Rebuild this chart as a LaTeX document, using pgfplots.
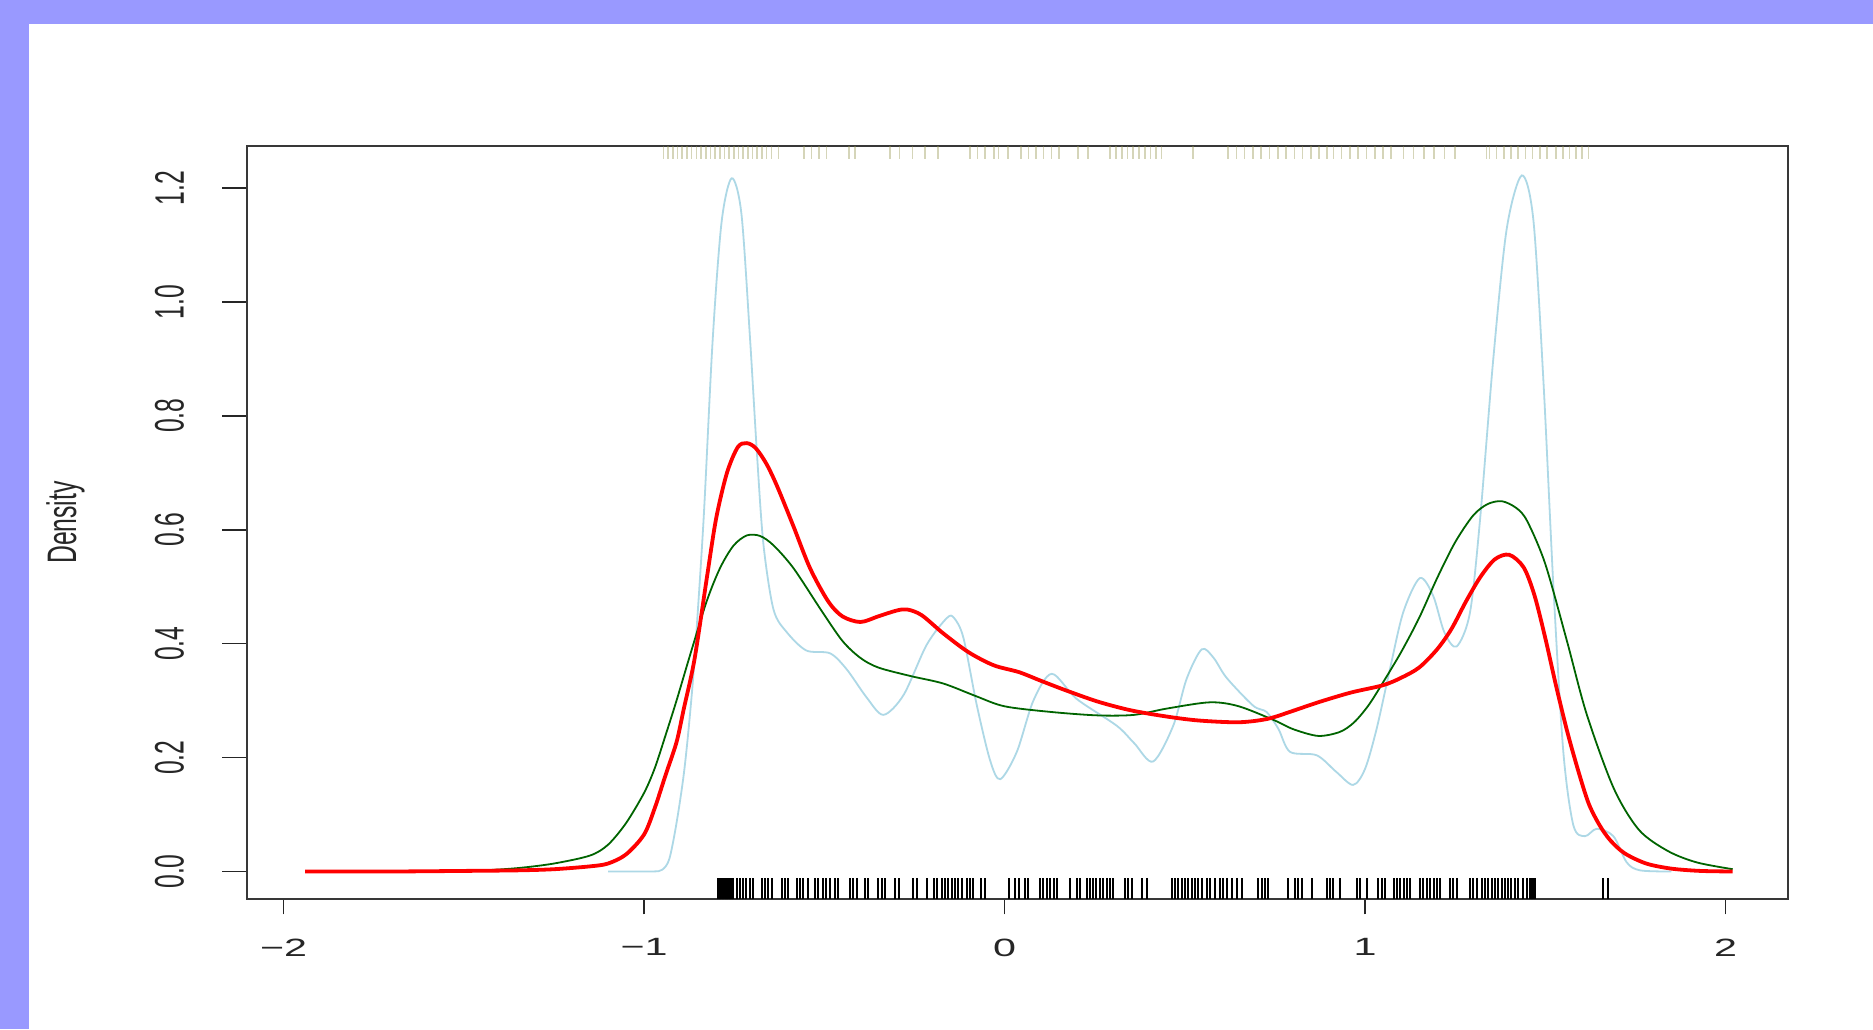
\documentclass[border=0pt]{standalone}
\usepackage{fontspec}
\setmainfont{Liberation Sans}
\newfontfamily\xlabfont{Liberation Sans}[FakeStretch=1.65]
\newfontfamily\ylabfont{Liberation Sans}[FakeStretch=0.6]
\usepackage{pgfplots}
\usepackage{pgfplotstable}
\pgfplotsset{compat=1.18}

\definecolor{frameblue}{RGB}{153,153,255}
\definecolor{kdeblue}{RGB}{173,216,230}
\definecolor{kdegreen}{RGB}{0,100,0}
\definecolor{rugolive}{RGB}{150,150,80}

\pgfplotstableread{
x y
-1.94 0
-1.70 0.000
-1.50 0.001
-1.35 0.002
-1.25 0.004
-1.15 0.009
-1.10 0.014
-1.05 0.030
-1.00 0.065
-0.97 0.112
-0.94 0.170
-0.91 0.227
-0.89 0.285
-0.86 0.373
-0.826 0.515
-0.80 0.620
-0.77 0.700
-0.74 0.745
-0.715 0.752
-0.69 0.743
-0.66 0.715
-0.63 0.675
-0.585 0.605
-0.54 0.533
-0.49 0.475
-0.45 0.448
-0.40 0.438
-0.35 0.448
-0.30 0.458
-0.27 0.460
-0.23 0.450
-0.17 0.418
-0.10 0.385
-0.03 0.362
0.04 0.350
0.10 0.335
0.17 0.318
0.26 0.298
0.35 0.283
0.45 0.272
0.54 0.265
0.65 0.262
0.73 0.268
0.80 0.282
0.87 0.297
0.96 0.314
1.05 0.327
1.10 0.340
1.15 0.358
1.20 0.390
1.24 0.426
1.28 0.474
1.32 0.517
1.36 0.548
1.40 0.556
1.44 0.534
1.47 0.485
1.50 0.410
1.53 0.326
1.56 0.248
1.59 0.180
1.62 0.120
1.65 0.082
1.68 0.055
1.72 0.032
1.78 0.014
1.85 0.005
1.93 0.001
2.02 0
}\redkde

\pgfplotstableread{
x y
-1.60 0.000
-1.45 0.002
-1.35 0.006
-1.25 0.014
-1.15 0.028
-1.10 0.047
-1.05 0.085
-1.00 0.138
-0.97 0.182
-0.94 0.240
-0.91 0.300
-0.87 0.385
-0.826 0.475
-0.789 0.533
-0.752 0.572
-0.715 0.590
-0.678 0.589
-0.64 0.572
-0.585 0.532
-0.51 0.460
-0.45 0.405
-0.40 0.375
-0.35 0.358
-0.26 0.343
-0.17 0.330
-0.08 0.308
0.00 0.290
0.13 0.280
0.26 0.274
0.36 0.275
0.45 0.286
0.57 0.297
0.65 0.290
0.75 0.265
0.80 0.250
0.87 0.238
0.93 0.245
0.97 0.262
1.01 0.292
1.05 0.332
1.10 0.385
1.15 0.445
1.20 0.515
1.25 0.578
1.30 0.625
1.34 0.645
1.38 0.650
1.42 0.638
1.45 0.615
1.50 0.540
1.56 0.405
1.615 0.276
1.69 0.146
1.76 0.073
1.84 0.036
1.92 0.016
2.02 0.004
}\greenkde

\pgfplotstableread{
x y
-1.10 0.000
-0.98 0.000
-0.95 0.003
-0.93 0.022
-0.91 0.085
-0.89 0.170
-0.875 0.26
-0.86 0.373
-0.835 0.617
-0.81 0.930
-0.785 1.140
-0.757 1.217
-0.73 1.155
-0.706 0.935
-0.687 0.735
-0.669 0.575
-0.641 0.460
-0.604 0.420
-0.55 0.388
-0.484 0.383
-0.438 0.355
-0.382 0.305
-0.336 0.275
-0.28 0.310
-0.216 0.398
-0.16 0.445
-0.14 0.445
-0.114 0.410
-0.077 0.292
-0.04 0.195
-0.012 0.162
0.034 0.210
0.080 0.300
0.131 0.347
0.200 0.303
0.311 0.256
0.360 0.225
0.412 0.193
0.468 0.256
0.505 0.338
0.547 0.390
0.58 0.375
0.616 0.340
0.690 0.291
0.727 0.280
0.76 0.25
0.792 0.210
0.866 0.204
0.92 0.175
0.967 0.152
1.00 0.180
1.032 0.250
1.069 0.355
1.106 0.455
1.152 0.515
1.189 0.484
1.220 0.420
1.254 0.395
1.291 0.454
1.319 0.617
1.356 0.901
1.393 1.128
1.435 1.222
1.467 1.144
1.495 0.860
1.523 0.495
1.550 0.211
1.578 0.081
1.610 0.062
1.643 0.075
1.689 0.062
1.726 0.016
1.763 0.002
1.85 0
}\bluekde

% bottom rug: data positions (y = axis bottom)
\pgfplotstableread{
x y
-0.795 -0.049
-0.790 -0.049
-0.786 -0.049
-0.782 -0.049
-0.778 -0.049
-0.774 -0.049
-0.770 -0.049
-0.766 -0.049
-0.762 -0.049
-0.758 -0.049
-0.754 -0.049
-0.743 -0.049
-0.734 -0.049
-0.725 -0.049
-0.716 -0.049
-0.706 -0.049
-0.697 -0.049
-0.674 -0.049
-0.665 -0.049
-0.655 -0.049
-0.646 -0.049
-0.618 -0.049
-0.609 -0.049
-0.600 -0.049
-0.577 -0.049
-0.568 -0.049
-0.559 -0.049
-0.544 -0.049
-0.526 -0.049
-0.517 -0.049
-0.503 -0.049
-0.494 -0.049
-0.485 -0.049
-0.471 -0.049
-0.461 -0.049
-0.429 -0.049
-0.420 -0.049
-0.410 -0.049
-0.387 -0.049
-0.378 -0.049
-0.350 -0.049
-0.341 -0.049
-0.332 -0.049
-0.304 -0.049
-0.294 -0.049
-0.253 -0.049
-0.243 -0.049
-0.216 -0.049
-0.197 -0.049
-0.188 -0.049
-0.174 -0.049
-0.165 -0.049
-0.156 -0.049
-0.147 -0.049
-0.138 -0.049
-0.128 -0.049
-0.119 -0.049
-0.105 -0.049
-0.096 -0.049
-0.087 -0.049
-0.064 -0.049
-0.054 -0.049
0.011 -0.049
0.030 -0.049
0.039 -0.049
0.057 -0.049
0.066 -0.049
0.098 -0.049
0.108 -0.049
0.117 -0.049
0.126 -0.049
0.136 -0.049
0.145 -0.049
0.182 -0.049
0.200 -0.049
0.209 -0.049
0.228 -0.049
0.237 -0.049
0.246 -0.049
0.255 -0.049
0.264 -0.049
0.274 -0.049
0.283 -0.049
0.292 -0.049
0.302 -0.049
0.334 -0.049
0.343 -0.049
0.353 -0.049
0.380 -0.049
0.394 -0.049
0.464 -0.049
0.473 -0.049
0.482 -0.049
0.491 -0.049
0.501 -0.049
0.510 -0.049
0.519 -0.049
0.528 -0.049
0.538 -0.049
0.547 -0.049
0.561 -0.049
0.570 -0.049
0.584 -0.049
0.598 -0.049
0.607 -0.049
0.616 -0.049
0.630 -0.049
0.644 -0.049
0.658 -0.049
0.704 -0.049
0.713 -0.049
0.722 -0.049
0.732 -0.049
0.787 -0.049
0.806 -0.049
0.815 -0.049
0.824 -0.049
0.852 -0.049
0.894 -0.049
0.903 -0.049
0.912 -0.049
0.931 -0.049
0.977 -0.049
0.986 -0.049
1.005 -0.049
1.037 -0.049
1.046 -0.049
1.056 -0.049
1.079 -0.049
1.088 -0.049
1.097 -0.049
1.107 -0.049
1.116 -0.049
1.125 -0.049
1.153 -0.049
1.162 -0.049
1.171 -0.049
1.180 -0.049
1.190 -0.049
1.199 -0.049
1.208 -0.049
1.236 -0.049
1.245 -0.049
1.254 -0.049
1.291 -0.049
1.300 -0.049
1.310 -0.049
1.324 -0.049
1.333 -0.049
1.342 -0.049
1.352 -0.049
1.361 -0.049
1.370 -0.049
1.379 -0.049
1.388 -0.049
1.397 -0.049
1.406 -0.049
1.416 -0.049
1.425 -0.049
1.439 -0.049
1.448 -0.049
1.457 -0.049
1.463 -0.049
1.467 -0.049
1.472 -0.049
1.661 -0.049
1.675 -0.049
}\bottomrug

% top rug: data positions (y = axis top)
\pgfplotstableread{
x y
-0.946 1.274
-0.933 1.274
-0.920 1.274
-0.907 1.274
-0.894 1.274
-0.881 1.274
-0.868 1.274
-0.855 1.274
-0.842 1.274
-0.829 1.274
-0.816 1.274
-0.803 1.274
-0.790 1.274
-0.777 1.274
-0.764 1.274
-0.751 1.274
-0.738 1.274
-0.725 1.274
-0.712 1.274
-0.699 1.274
-0.686 1.274
-0.673 1.274
-0.660 1.274
-0.647 1.274
-0.627 1.274
-0.556 1.274
-0.536 1.274
-0.515 1.274
-0.494 1.274
-0.432 1.274
-0.415 1.274
-0.317 1.274
-0.291 1.274
-0.255 1.274
-0.220 1.274
-0.185 1.274
-0.096 1.274
-0.075 1.274
-0.054 1.274
-0.030 1.274
-0.017 1.274
0.010 1.274
0.045 1.274
0.066 1.274
0.087 1.274
0.108 1.274
0.130 1.274
0.151 1.274
0.204 1.274
0.231 1.274
0.293 1.274
0.309 1.274
0.325 1.274
0.341 1.274
0.357 1.274
0.373 1.274
0.389 1.274
0.405 1.274
0.420 1.274
0.435 1.274
0.523 1.274
0.620 1.274
0.643 1.274
0.666 1.274
0.689 1.274
0.712 1.274
0.735 1.274
0.758 1.274
0.781 1.274
0.804 1.274
0.827 1.274
0.850 1.274
0.873 1.274
0.895 1.274
0.913 1.274
0.935 1.274
0.958 1.274
0.981 1.274
1.004 1.274
1.027 1.274
1.050 1.274
1.072 1.274
1.107 1.274
1.135 1.274
1.163 1.274
1.191 1.274
1.220 1.274
1.249 1.274
1.337 1.274
1.345 1.274
1.365 1.274
1.385 1.274
1.405 1.274
1.425 1.274
1.445 1.274
1.465 1.274
1.485 1.274
1.505 1.274
1.530 1.274
1.550 1.274
1.567 1.274
1.585 1.274
1.602 1.274
1.620 1.274
}\toprug

\begin{document}
\begin{tikzpicture}
\path[use as bounding box, fill=white] (0pt,0pt) rectangle (936.5pt,514.5pt);
\fill[frameblue] (0pt,0pt) rectangle (14.5pt,514.5pt);
\fill[frameblue] (0pt,502.5pt) rectangle (936.5pt,514.5pt);
\begin{axis}[
  at={(123.6pt,64.8pt)}, anchor=south west,
  scale only axis, width=770.5pt, height=376.8pt,
  xmin=-2.101, xmax=2.174, ymin=-0.049, ymax=1.274,
  axis line style={black!78, line width=1pt},
  tick align=outside, tick pos=left,
  major tick length=12.5pt,
  tick style={black!85, line width=0.8pt},
  xtick style={/pgfplots/major tick length=7.5pt},
  xtick={-2,-1,0,1,2},
  xticklabels={−2,−1,0,1,2},
  ytick={0,0.2,0.4,0.6,0.8,1.0,1.2},
  yticklabels={0.0,0.2,0.4,0.6,0.8,1.0,1.2},
  xticklabel style={font=\xlabfont\fontsize{12.5}{15}\selectfont, text=black!85, anchor=north, yshift=-3.6pt},
  yticklabel style={font=\ylabfont\fontsize{20.6}{24}\selectfont, text=black!85, xshift=-15.6pt, rotate=90, anchor=south},
  ylabel={Density},
  every axis y label/.style={at={(rel axis cs:0,0.5)}, xshift=-90.8pt, rotate=90, anchor=center, font=\ylabfont\fontsize{20.6}{24}\selectfont, text=black!85},
]
\addplot[no markers, kdeblue, line width=0.9pt, smooth, tension=0.5] table {\bluekde};
\addplot[no markers, kdegreen, line width=0.9pt, smooth] table {\greenkde};
\addplot[no markers, red, line width=1.9pt, smooth] table {\redkde};
\addplot[no markers, black, line width=1pt, quiver={u=0, v=0.0375}] table {\bottomrug};
\addplot[no markers, rugolive, opacity=0.4, line width=0.8pt, quiver={u=0, v=-0.023}] table {\toprug};
\end{axis}
\end{tikzpicture}
\end{document}
